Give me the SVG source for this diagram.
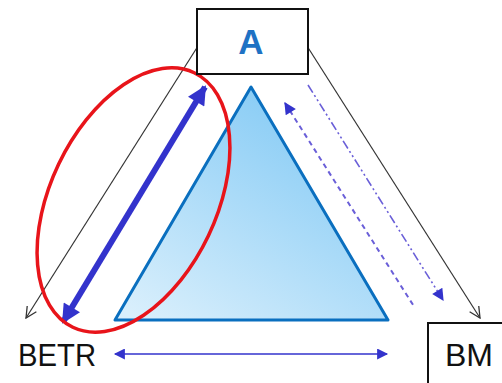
<svg xmlns="http://www.w3.org/2000/svg" width="502" height="383" viewBox="0 0 502 383">
<defs>
<linearGradient id="tri" x1="0.75" y1="0.1" x2="0.1" y2="1">
<stop offset="0" stop-color="#86cbf5"/>
<stop offset="1" stop-color="#d9effc"/>
</linearGradient>
<marker id="open" viewBox="0 0 12 12" refX="11" refY="6" markerWidth="13" markerHeight="13" markerUnits="userSpaceOnUse" orient="auto">
<path d="M1,1 L11,6 L1,11" fill="none" stroke="#333" stroke-width="1.2"/>
</marker>
<marker id="thickS" viewBox="0 0 10 10" refX="9" refY="5" markerWidth="20" markerHeight="19" markerUnits="userSpaceOnUse" orient="auto-start-reverse">
<path d="M0,0 L10,5 L0,10 z" fill="#3333cc"/>
</marker>
<marker id="thin" viewBox="0 0 10 10" refX="9" refY="5" markerWidth="15" markerHeight="11" markerUnits="userSpaceOnUse" orient="auto-start-reverse">
<path d="M0,0 L10,5 L0,10 z" fill="#3333cc"/>
</marker>
<marker id="dash" viewBox="0 0 10 10" refX="9" refY="5" markerWidth="14" markerHeight="12" markerUnits="userSpaceOnUse" orient="auto-start-reverse">
<path d="M0,0 L10,5 L0,10 z" fill="#3333cc"/>
</marker>
</defs>
<style>
.lbl{font-family:"Liberation Sans","Open Sans",sans-serif;font-size:32px;fill:#111}
.box{fill:#fff;stroke:#111;stroke-width:2}
</style>
<g id="triangle">
<polygon points="251,87 115,320 388,320" fill="url(#tri)" stroke="#0a6fbf" stroke-width="3" stroke-linejoin="round"/>
</g>
<g id="connectors">
<line x1="198" y1="46" x2="26" y2="318" stroke="#333" stroke-width="1.2" marker-end="url(#open)"/>
<line x1="307" y1="46" x2="480" y2="318" stroke="#333" stroke-width="1.2" marker-end="url(#open)"/>
<line x1="205" y1="87" x2="63" y2="322" stroke="#3333cc" stroke-width="6" marker-start="url(#thickS)" marker-end="url(#thickS)"/>
<line x1="115" y1="354" x2="387" y2="354" stroke="#3333cc" stroke-width="1.5" marker-start="url(#thin)" marker-end="url(#thin)"/>
<line x1="285" y1="103" x2="415" y2="308" stroke="#6a5fd8" stroke-width="2" stroke-dasharray="5,4" marker-start="url(#dash)"/>
<line x1="308" y1="85" x2="443" y2="300" stroke="#6a5fd8" stroke-width="1.6" stroke-dasharray="9,3,2,3,2,3" marker-end="url(#dash)"/>
</g>
<g id="highlight">
<ellipse cx="133.5" cy="200" rx="141" ry="83" transform="rotate(-64.5 133.5 200)" fill="none" stroke="#e8141a" stroke-width="3.5"/>
</g>
<g id="nodeA">
<rect class="box" x="197" y="9" width="111" height="65"/>
<text x="251" y="54" text-anchor="middle" font-family="Liberation Sans, sans-serif" font-weight="bold" font-size="35" fill="#1f72c4">A</text>
</g>
<g id="nodeBETR">
<text class="lbl" x="18" y="366" textLength="78" lengthAdjust="spacingAndGlyphs">BETR</text>
</g>
<g id="nodeBM">
<rect class="box" x="428" y="323" width="80" height="70"/>
<text class="lbl" x="445" y="366">BM</text>
</g>
</svg>
